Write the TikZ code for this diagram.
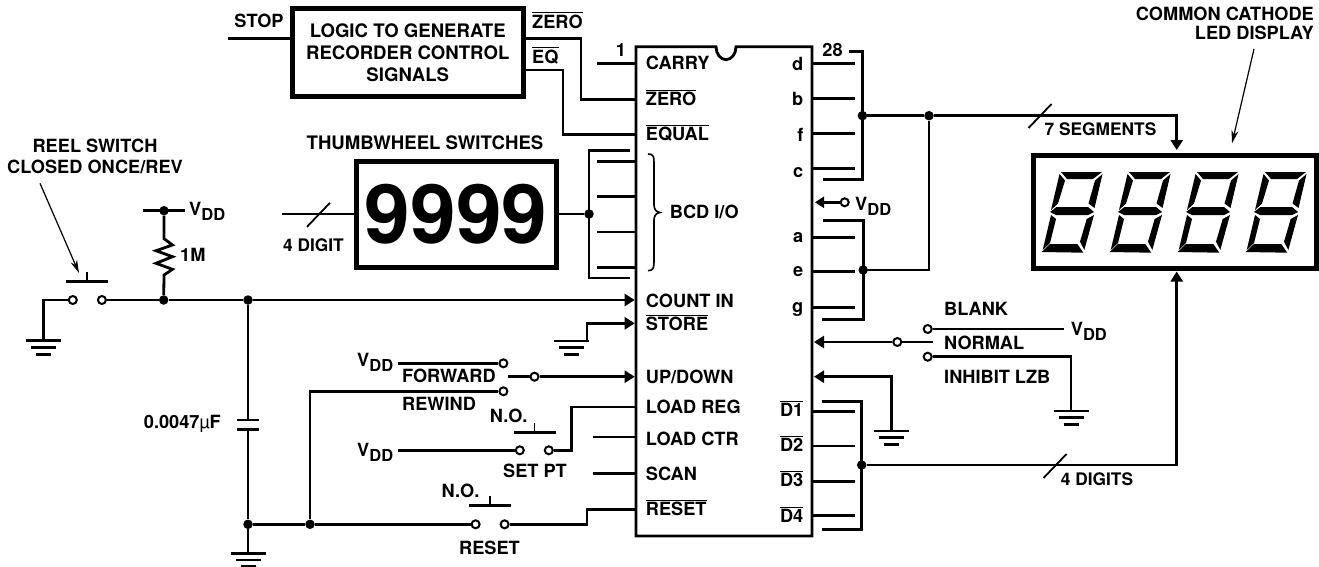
\documentclass[tikz,border=0pt]{standalone}
\usepackage{fontspec}
\setmainfont{TeX Gyre Heros}
\usetikzlibrary{arrows.meta}
\newcommand{\ovl}[1]{\leavevmode\vbox{\hrule height 1.2pt\kern 1.3pt\hbox{#1}}}
\newcommand{\vdd}{V\raisebox{-5pt}{\fontsize{16.5}{18}\selectfont DD}}
\newcommand{\segdigit}{
   \fill (21,12) -- (62,12) -- (53,19) -- (27,19) -- cycle;
   \fill (19.5,14) -- (25,20.5) -- (18,43.5) -- (11,50) -- cycle;
   \fill (62.5,14) -- (54.5,48) -- (48.5,43.5) -- (55,20.5) -- cycle;
   \fill (10,52) -- (16.5,47) -- (48,47) -- (54,52) -- (48,55) -- (16,55) -- cycle;
   \fill (11,55) -- (16,59) -- (10,83) -- (2.7,90) -- cycle;
   \fill (54,55) -- (46.7,59) -- (40,81.7) -- (44.3,90) -- cycle;
   \fill (1.7,92) -- (10,84) -- (37.3,84) -- (43.3,92.7) -- cycle;
}

\begin{document}
\begin{tikzpicture}[x=1pt,y=-1pt]
   \tikzset{wire/.style={line width=2.8pt}}
   \tikzset{arrowwire/.style={wire,-{Triangle[length=10pt,width=12pt]}}}
   \tikzset{leader/.style={line width=1.2pt,-{Stealth[length=13pt,width=7pt]}}}
   \tikzset{lab/.style={inner sep=0pt,font=\fontsize{18.2}{22}\selectfont\bfseries,text height=13pt,text depth=0pt}}
   \tikzset{smalllab/.style={lab,font=\fontsize{17.3}{21}\selectfont\bfseries}}
   \tikzset{llab/.style={lab,anchor=west}}
   \tikzset{rlab/.style={lab,anchor=east}}
   \tikzset{dot/.style={circle,fill=black,inner sep=0pt,minimum size=9.5pt}}
   \tikzset{term/.style={circle,draw,fill=white,line width=2pt,inner sep=0pt,minimum size=8pt}}
   \tikzset{heavybox/.style={draw,line width=5pt,inner sep=0pt,align=center}}
   \tikzset{gnd/.pic={
      \draw[wire] (-17.5,0) -- (17.5,0);
      \draw[wire] (-12.5,6.7) -- (12.5,6.7);
      \draw[wire] (-7.5,13.5) -- (7.5,13.5);}}
   \tikzset{pushbar/.pic={
      \draw[wire] (-21,0) -- (21,0);
      \draw[line width=1.8pt] (0,0) -- (0,-9.5);}}
   \tikzset{slash/.pic={
      \draw[line width=1.8pt] (-11.5,12) -- (11.5,-12);}}
   \useasboundingbox (0,0) rectangle (1319,567);

   \node[heavybox,minimum width=231.5pt,minimum height=88.5pt,font=\fontsize{18.6}{22}\selectfont\bfseries] (logic) at (407.75,52.75) {LOGIC TO GENERATE\\RECORDER CONTROL\\SIGNALS};
   \node[heavybox,minimum width=200pt,minimum height=106pt,font=\fontsize{82}{82}\selectfont\bfseries] (thumb) at (456,214) {\raisebox{-5pt}{9999}};
   \node[heavybox,minimum width=283pt,minimum height=113pt] (display) at (1175,212) {};
   \draw[line width=2.8pt] (736,46.7) arc[start angle=0,end angle=180,x radius=10,y radius=13] -- (636,46.7) -- (636,536) -- (812,536) -- (812,46.7) -- cycle;

   \foreach \n in {0,1,2,3}{
      \begin{scope}[shift={(1040+68*\n,160)}]
         \segdigit
      \end{scope}
   }

   \node[lab] (stoplab) at (259,20.7) {STOP};
   \node[llab] (zerolab) at (532,21.7) {\ovl{ZERO}};
   \node[llab] (eqlab) at (532,56.7) {\ovl{EQ}};
   \node[lab] (pinone) at (621,50) {1};
   \node[lab] (pinlast) at (832.6,50) {28};
   \node[lab,font=\fontsize{18.6}{22}\selectfont\bfseries] (thumblab) at (425,142.7) {THUMBWHEEL SWITCHES};
   \node[smalllab] (digitlab) at (313.5,245) {4 DIGIT};
   \node[inner sep=0pt,align=center,font=\fontsize{18.2}{21}\selectfont\bfseries] (reellab) at (95,156) {REEL SWITCH\\CLOSED ONCE/REV};
   \node[inner sep=0pt,align=right,anchor=east,font=\fontsize{18.2}{19.3}\selectfont\bfseries] (ledlab) at (1314,23.7) {COMMON CATHODE\\LED DISPLAY};
   \node[smalllab,anchor=west] (seglab) at (1044.5,129) {7 SEGMENTS};
   \node[smalllab,anchor=west] (digitslab) at (1060.7,479) {4 DIGITS};
   \node[llab] (rlab) at (180,255) {1M};
   \node[rlab] (caplab) at (221,421.7) {0.0047{\fontseries{m}\selectfont µ}F};
   \node[llab] (fwdlab) at (402,375.7) {FORWARD};
   \node[llab] (rewlab) at (402,404) {REWIND};
   \node[lab] (setlab) at (535,470.7) {SET PT};
   \node[lab] (resetlab) at (489.5,547.7) {RESET};
   \node[lab] (nosetlab) at (508.7,416) {N.O.};
   \node[lab] (noresetlab) at (460.5,490.7) {N.O.};
   \node[llab] (blanklab) at (944,309.3) {BLANK};
   \node[llab] (normallab) at (944,343.3) {NORMAL};
   \node[llab] (inhlab) at (944,377.3) {INHIBIT LZB};
   \node[llab] (bcdlab) at (669.7,212) {BCD I/O};
   \node[llab] (vddreel) at (189,209) {\vdd};
   \node[llab] (vddfwd) at (357,360) {\vdd};
   \node[llab] (vddset) at (357,450) {\vdd};
   \node[llab] (vddchip) at (855,204) {\vdd};
   \node[llab] (vddblank) at (1070.7,329) {\vdd};

   \foreach \n/\txt/\y in {carry/CARRY/63,zero/\ovl{ZERO}/99.3,equal/\ovl{EQUAL}/134.3,count/COUNT IN/300.7,store/\ovl{STORE}/324,updown/{UP/DOWN}/377.3,loadreg/LOAD REG/406.7,loadctr/LOAD CTR/439.3,scan/SCAN/474.3,reset/\ovl{RESET}/509.3}
      \node[llab] (chip\n) at (645.7,\y) {\txt};
   \foreach \n/\txt/\y in {d/d/64,b/b/99,f/f/135,c/c/170.7,a/a/236,e/e/270,g/g/306,done/\ovl{D1}/410,dtwo/\ovl{D2}/445,dthree/\ovl{D3}/480,dfour/\ovl{D4}/516}
      \node[rlab] (chip\n) at (803.5,\y) {\txt};

   \draw[line width=1.6pt] (648,154) .. controls (653,154) and (654,156) .. (654,162) -- (654,205) .. controls (654,209) and (656,212) .. (660,212.5) .. controls (656,213) and (654,216) .. (654,220) -- (654,262) .. controls (654,268) and (653,270.7) .. (648,270.7);

   \coordinate (stopin) at (228,38.3);
   \draw[wire] (stopin) -- (logic.west |- stopin);
   \coordinate (zeroout) at (logic.east |- stopin);
   \coordinate (pinzero) at (636,99.3);
   \draw[wire] (zeroout) -- (581,38.3) -- (581,99.3) -- (pinzero);
   \coordinate (eqout) at (526,70);
   \coordinate (pinequal) at (636,134.3);
   \draw[wire] (eqout) -- (563,70) -- (563,134.3) -- (pinequal);
   \coordinate (carryin) at (597,63.3);
   \coordinate (pincarry) at (636,63.3);
   \draw[wire] (carryin) -- (pincarry);

   \coordinate (bcdtop) at (630,150.7);
   \coordinate (bcdbot) at (630,278);
   \draw[wire] (bcdtop) -- (589,150.7) -- (589,278) -- (bcdbot);
   \foreach \n/\y in {a/161.7,b/196.7,c/232,d/267.3}{
      \coordinate (bcdpin\n) at (636,\y);
      \coordinate (bcdstub\n) at (597,\y);
      \draw[wire] (bcdpin\n) -- (bcdstub\n);
   }
   \node[dot] (dotbcd) at (589,214) {};
   \draw[wire] (thumb.east) -- (dotbcd);
   \coordinate (thumbin) at (282,214);
   \draw[wire] (thumbin) -- (thumb.west);
   \pic at (318.5,214.8) {slash};

   \coordinate (upperend) at (849,51.7);
   \coordinate (upperret) at (822.7,179.3);
   \draw[wire] (upperend) -- (862.4,51.7) -- (862.4,179.3) -- (upperret);
   \foreach \n/\y in {d/63.3,b/98.3,f/133.3,c/168.3,a/237.3,e/271.7,g/307.3,done/411.7,dtwo/446,dthree/481.3,dfour/515.3}{
      \coordinate (pin\n) at (812,\y);
      \coordinate (stub\n) at (854.5,\y);
      \draw[wire] (pin\n) -- (stub\n);
   }
   \coordinate (lowerend) at (823,220.7);
   \coordinate (lowerret) at (822.3,319.3);
   \draw[wire] (lowerend) -- (863.2,220.7) -- (863.2,319.3) -- (lowerret);
   \node[dot] (dotupper) at (862.4,115.7) {};
   \node[dot] (dotjoin) at (929,115.7) {};
   \node[dot] (dotlower) at (863.2,270) {};
   \coordinate (segin) at (1176.7,150);
   \draw[wire] (dotupper) -- (dotjoin);
   \draw[arrowwire] (dotjoin) -- (1176.7,115.7) -- (segin);
   \draw[wire] (dotjoin) -- (929,270) -- (dotlower);
   \pic at (1040,116) {slash};

   \coordinate (digitbusend) at (821.7,401.7);
   \coordinate (digitbusret) at (821.7,529.3);
   \draw[wire] (digitbusend) -- (861.7,401.7) -- (861.7,529.3) -- (digitbusret);
   \node[dot] (dotdigits) at (861.7,465) {};
   \coordinate (digitin) at (1176.7,271.5);
   \draw[arrowwire] (dotdigits) -- (1176.7,465) -- (digitin);
   \pic at (1055,466) {slash};

   \node[term] (termchip) at (844.7,202.3) {};
   \coordinate (pinvdd) at (815,202.3);
   \draw[line width=2.6pt,-{Triangle[length=9pt,width=11pt]}] (termchip) -- (pinvdd);

   \node[term] (termblank) at (927.7,329) {};
   \node[term] (terminh) at (927.7,356.7) {};
   \node[term] (termnormal) at (897.3,342) {};
   \coordinate (blankend) at (1064,329);
   \coordinate (normalend) at (932.7,342);
   \coordinate (pinblank) at (814,342);
   \coordinate (inhgnd) at (1071,411);
   \coordinate (pingnd) at (814,376.7);
   \coordinate (rightgnd) at (891.7,431);
   \draw[wire] (termblank) -- (blankend);
   \draw[wire] (normalend) -- (termnormal);
   \draw[arrowwire] (termnormal) -- (pinblank);
   \draw[wire] (terminh) -- (1071,356.7) -- (inhgnd);
   \draw[arrowwire] (rightgnd) -- (891.7,376.7) -- (pingnd);
   \pic at (inhgnd) {gnd};
   \pic at (rightgnd) {gnd};

   \node[term] (termreela) at (72.8,300) {};
   \node[term] (termreelb) at (101.9,300) {};
   \pic at (87,281.7) {pushbar};
   \coordinate (reelgnd) at (43.3,340.7);
   \draw[wire] (termreela) -- (43.3,300) -- (reelgnd);
   \pic at (reelgnd) {gnd};
   \node[dot] (dotvdd) at (164,210.7) {};
   \node[dot] (dotmain) at (163.7,300) {};
   \node[dot] (dotcapa) at (248,300) {};
   \node[dot] (dotcapb) at (248,524.3) {};
   \node[dot] (dotrew) at (310,524.3) {};
   \coordinate (pincount) at (634.7,300);
   \draw[wire] (termreelb) -- (dotmain);
   \draw[wire] (dotmain) -- (dotcapa);
   \draw[arrowwire] (dotcapa) -- (pincount);
   \coordinate (vddleft) at (143,210.7);
   \coordinate (vddright) at (185,210.7);
   \draw[wire] (vddleft) -- (vddright);
   \draw[wire,line join=miter] (dotvdd) -- (164,238.7) -- (172.5,245) -- (156,250.7) -- (172.5,256.7) -- (156,263.3) -- (172.5,269.3) -- (164,275) -- (dotmain);

   \coordinate (captop) at (248,420);
   \coordinate (capbot) at (248,429.3);
   \draw[wire] (dotcapa) -- (captop);
   \draw[wire] (capbot) -- (dotcapb);
   \draw[wire] (237,420) -- (259,420);
   \draw[wire] (237,429.3) -- (259,429.3);
   \coordinate (mainbotgnd) at (248,553.3);
   \draw[wire] (dotcapb) -- (mainbotgnd);
   \pic at (mainbotgnd) {gnd};

   \coordinate (storegnd) at (587,341);
   \coordinate (pinstore) at (634.7,323.3);
   \draw[arrowwire] (storegnd) -- (587,323.3) -- (pinstore);
   \pic at (571.6,341) {gnd};

   \node[term] (termfwd) at (503.4,363.3) {};
   \node[term] (termrew) at (503.4,391.3) {};
   \node[term] (termup) at (534.5,376.7) {};
   \coordinate (fwdin) at (397.7,363.3);
   \coordinate (upstub) at (508.4,376.7);
   \coordinate (pinup) at (634.7,376.7);
   \draw[wire] (fwdin) -- (termfwd);
   \draw[wire] (dotcapb) -- (dotrew);
   \draw[wire] (dotrew) -- (310,391.3) -- (termrew);
   \draw[wire] (upstub) -- (termup);
   \draw[arrowwire] (termup) -- (pinup);

   \node[term] (termseta) at (519.8,450.3) {};
   \node[term] (termsetb) at (548.8,450.3) {};
   \pic at (534.5,432.3) {pushbar};
   \coordinate (setin) at (398,450.3);
   \coordinate (pinload) at (636,407);
   \draw[wire] (setin) -- (termseta);
   \draw[wire] (termsetb) -- (571.5,450.3) -- (571.5,407) -- (pinload);
   \foreach \n/\y in {ctr/437,scan/473.3}{
      \coordinate (pin\n) at (636,\y);
      \coordinate (stub\n) at (593.4,\y);
      \draw[wire] (stub\n) -- (pin\n);
   }

   \node[term] (termreseta) at (475.6,524.3) {};
   \node[term] (termresetb) at (504.6,524.3) {};
   \pic at (490.3,505.3) {pushbar};
   \coordinate (pinreset) at (636,509.3);
   \draw[wire] (dotrew) -- (termreseta);
   \draw[wire] (termresetb) -- (587,524.3) -- (587,509.3) -- (pinreset);

   \coordinate (reeltail) at (40,183.3);
   \coordinate (reeltip) at (79,273);
   \draw[leader] (reeltail) -- (reeltip);
   \coordinate (ledtail) at (1254,49);
   \coordinate (ledtip) at (1232,143.3);
   \draw[leader] (ledtail) -- (ledtip);
\end{tikzpicture}
\end{document}
